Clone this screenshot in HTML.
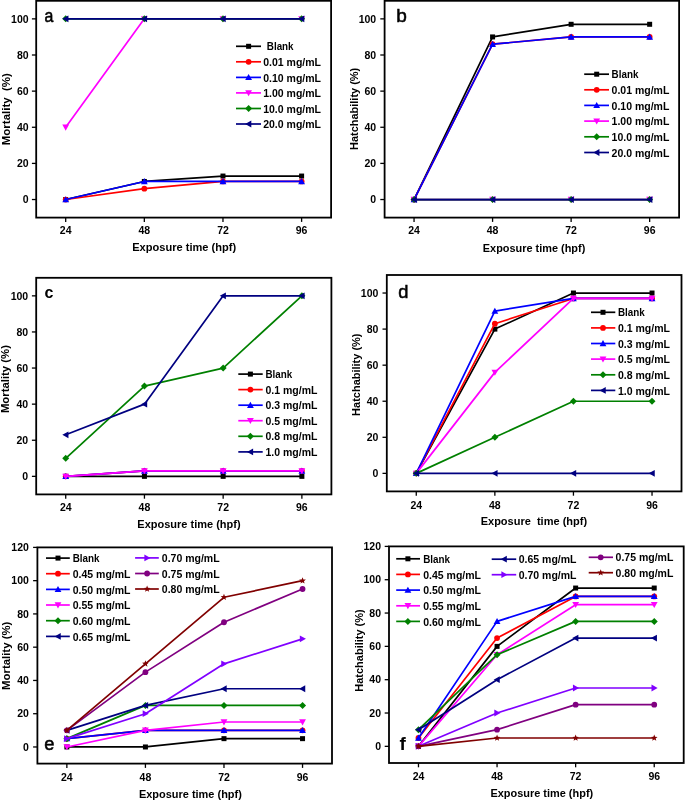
<!DOCTYPE html>
<html><head><meta charset="utf-8"><title>Figure</title>
<style>
html,body{margin:0;padding:0;background:#fff;}
body{width:685px;height:801px;overflow:hidden;}
svg{display:block;font-family:"Liberation Sans", sans-serif;will-change:transform;}
text{fill:#000;}
</style></head>
<body>
<svg width="685" height="801" viewBox="0 0 685 801">
<rect width="685" height="801" fill="#fff"/>
<polyline points="65.69,199.53 144.33,181.47 222.97,176.05 301.61,176.05" fill="none" stroke="#000000" stroke-width="1.7" stroke-linejoin="round"/>
<rect x="63.19" y="197.03" width="5.00" height="5.00" fill="#000000"/>
<rect x="141.83" y="178.97" width="5.00" height="5.00" fill="#000000"/>
<rect x="220.47" y="173.55" width="5.00" height="5.00" fill="#000000"/>
<rect x="299.11" y="173.55" width="5.00" height="5.00" fill="#000000"/>
<polyline points="65.69,199.53 144.33,188.69 222.97,181.47 301.61,181.47" fill="none" stroke="#ff0000" stroke-width="1.7" stroke-linejoin="round"/>
<circle cx="65.69" cy="199.53" r="2.90" fill="#ff0000"/>
<circle cx="144.33" cy="188.69" r="2.90" fill="#ff0000"/>
<circle cx="222.97" cy="181.47" r="2.90" fill="#ff0000"/>
<circle cx="301.61" cy="181.47" r="2.90" fill="#ff0000"/>
<polyline points="65.69,199.53 144.33,181.47 222.97,181.47 301.61,181.47" fill="none" stroke="#0000ff" stroke-width="1.7" stroke-linejoin="round"/>
<polygon points="65.69,196.13 69.09,202.25 62.29,202.25" fill="#0000ff"/>
<polygon points="144.33,178.07 147.73,184.19 140.93,184.19" fill="#0000ff"/>
<polygon points="222.97,178.07 226.37,184.19 219.57,184.19" fill="#0000ff"/>
<polygon points="301.61,178.07 305.01,184.19 298.21,184.19" fill="#0000ff"/>
<polyline points="65.69,127.27 144.33,18.87 222.97,18.87 301.61,18.87" fill="none" stroke="#ff00ff" stroke-width="1.7" stroke-linejoin="round"/>
<polygon points="65.69,130.67 69.09,124.55 62.29,124.55" fill="#ff00ff"/>
<polygon points="144.33,22.27 147.73,16.15 140.93,16.15" fill="#ff00ff"/>
<polygon points="222.97,22.27 226.37,16.15 219.57,16.15" fill="#ff00ff"/>
<polygon points="301.61,22.27 305.01,16.15 298.21,16.15" fill="#ff00ff"/>
<polyline points="65.69,18.87 144.33,18.87 222.97,18.87 301.61,18.87" fill="none" stroke="#008000" stroke-width="1.7" stroke-linejoin="round"/>
<polygon points="65.69,15.37 69.19,18.87 65.69,22.37 62.19,18.87" fill="#008000"/>
<polygon points="144.33,15.37 147.83,18.87 144.33,22.37 140.83,18.87" fill="#008000"/>
<polygon points="222.97,15.37 226.47,18.87 222.97,22.37 219.47,18.87" fill="#008000"/>
<polygon points="301.61,15.37 305.11,18.87 301.61,22.37 298.11,18.87" fill="#008000"/>
<polyline points="65.69,18.87 144.33,18.87 222.97,18.87 301.61,18.87" fill="none" stroke="#000080" stroke-width="1.7" stroke-linejoin="round"/>
<polygon points="62.29,18.87 68.41,15.47 68.41,22.27" fill="#000080"/>
<polygon points="140.93,18.87 147.05,15.47 147.05,22.27" fill="#000080"/>
<polygon points="219.57,18.87 225.69,15.47 225.69,22.27" fill="#000080"/>
<polygon points="298.21,18.87 304.33,15.47 304.33,22.27" fill="#000080"/>
<rect x="36.20" y="0.80" width="294.90" height="216.80" fill="none" stroke="#000" stroke-width="1.8"/>
<line x1="65.69" y1="217.60" x2="65.69" y2="221.90" stroke="#000" stroke-width="1.3"/>
<text x="65.69" y="234.00" font-size="10.5" font-weight="bold" text-anchor="middle">24</text>
<line x1="144.33" y1="217.60" x2="144.33" y2="221.90" stroke="#000" stroke-width="1.3"/>
<text x="144.33" y="234.00" font-size="10.5" font-weight="bold" text-anchor="middle">48</text>
<line x1="222.97" y1="217.60" x2="222.97" y2="221.90" stroke="#000" stroke-width="1.3"/>
<text x="222.97" y="234.00" font-size="10.5" font-weight="bold" text-anchor="middle">72</text>
<line x1="301.61" y1="217.60" x2="301.61" y2="221.90" stroke="#000" stroke-width="1.3"/>
<text x="301.61" y="234.00" font-size="10.5" font-weight="bold" text-anchor="middle">96</text>
<line x1="31.90" y1="199.53" x2="36.20" y2="199.53" stroke="#000" stroke-width="1.3"/>
<text x="28.60" y="203.28" font-size="10.5" font-weight="bold" text-anchor="end">0</text>
<line x1="31.90" y1="163.40" x2="36.20" y2="163.40" stroke="#000" stroke-width="1.3"/>
<text x="28.60" y="167.15" font-size="10.5" font-weight="bold" text-anchor="end">20</text>
<line x1="31.90" y1="127.27" x2="36.20" y2="127.27" stroke="#000" stroke-width="1.3"/>
<text x="28.60" y="131.02" font-size="10.5" font-weight="bold" text-anchor="end">40</text>
<line x1="31.90" y1="91.13" x2="36.20" y2="91.13" stroke="#000" stroke-width="1.3"/>
<text x="28.60" y="94.88" font-size="10.5" font-weight="bold" text-anchor="end">60</text>
<line x1="31.90" y1="55.00" x2="36.20" y2="55.00" stroke="#000" stroke-width="1.3"/>
<text x="28.60" y="58.75" font-size="10.5" font-weight="bold" text-anchor="end">80</text>
<line x1="31.90" y1="18.87" x2="36.20" y2="18.87" stroke="#000" stroke-width="1.3"/>
<text x="28.60" y="22.62" font-size="10.5" font-weight="bold" text-anchor="end">100</text>
<line x1="236.00" y1="46.30" x2="261.00" y2="46.30" stroke="#000000" stroke-width="1.7"/>
<rect x="246.10" y="43.80" width="5.00" height="5.00" fill="#000000"/>
<text x="266.80" y="50.40" font-size="10.5" font-weight="bold" text-anchor="start" textLength="26.80" lengthAdjust="spacingAndGlyphs">Blank</text>
<line x1="236.00" y1="61.80" x2="261.00" y2="61.80" stroke="#ff0000" stroke-width="1.7"/>
<circle cx="248.60" cy="61.80" r="2.90" fill="#ff0000"/>
<text x="263.20" y="65.90" font-size="10.5" font-weight="bold" text-anchor="start">0.01 mg/mL</text>
<line x1="236.00" y1="77.40" x2="261.00" y2="77.40" stroke="#0000ff" stroke-width="1.7"/>
<polygon points="248.60,74.00 252.00,80.12 245.20,80.12" fill="#0000ff"/>
<text x="263.20" y="81.50" font-size="10.5" font-weight="bold" text-anchor="start">0.10 mg/mL</text>
<line x1="236.00" y1="92.90" x2="261.00" y2="92.90" stroke="#ff00ff" stroke-width="1.7"/>
<polygon points="248.60,96.30 252.00,90.18 245.20,90.18" fill="#ff00ff"/>
<text x="263.20" y="97.00" font-size="10.5" font-weight="bold" text-anchor="start">1.00 mg/mL</text>
<line x1="236.00" y1="108.50" x2="261.00" y2="108.50" stroke="#008000" stroke-width="1.7"/>
<polygon points="248.60,105.00 252.10,108.50 248.60,112.00 245.10,108.50" fill="#008000"/>
<text x="263.20" y="112.60" font-size="10.5" font-weight="bold" text-anchor="start">10.0 mg/mL</text>
<line x1="236.00" y1="124.00" x2="261.00" y2="124.00" stroke="#000080" stroke-width="1.7"/>
<polygon points="245.20,124.00 251.32,120.60 251.32,127.40" fill="#000080"/>
<text x="263.20" y="128.10" font-size="10.5" font-weight="bold" text-anchor="start">20.0 mg/mL</text>
<text x="44.60" y="22.10" font-size="18.5" font-weight="normal" text-anchor="start" stroke="#000" stroke-width="0.55" transform="translate(44.60,0) scale(0.86,1) translate(-44.60,0)">a</text>
<text x="132.20" y="251.20" font-size="11" font-weight="bold" text-anchor="start" textLength="104.00" lengthAdjust="spacingAndGlyphs" xml:space="preserve">Exposure time (hpf)</text>
<text transform="translate(9.80,109.20) rotate(-90)" x="0" y="0" font-size="11" font-weight="bold" text-anchor="middle" textLength="72.00" lengthAdjust="spacingAndGlyphs" xml:space="preserve">Mortality  (%)</text>
<polyline points="414.05,199.53 492.58,36.93 571.12,24.29 649.65,24.29" fill="none" stroke="#000000" stroke-width="1.7" stroke-linejoin="round"/>
<rect x="411.55" y="197.03" width="5.00" height="5.00" fill="#000000"/>
<rect x="490.08" y="34.43" width="5.00" height="5.00" fill="#000000"/>
<rect x="568.62" y="21.79" width="5.00" height="5.00" fill="#000000"/>
<rect x="647.15" y="21.79" width="5.00" height="5.00" fill="#000000"/>
<polyline points="414.05,199.53 492.58,44.16 571.12,36.93 649.65,36.93" fill="none" stroke="#ff0000" stroke-width="1.7" stroke-linejoin="round"/>
<circle cx="414.05" cy="199.53" r="2.90" fill="#ff0000"/>
<circle cx="492.58" cy="44.16" r="2.90" fill="#ff0000"/>
<circle cx="571.12" cy="36.93" r="2.90" fill="#ff0000"/>
<circle cx="649.65" cy="36.93" r="2.90" fill="#ff0000"/>
<polyline points="414.05,199.53 492.58,44.16 571.12,36.93 649.65,36.93" fill="none" stroke="#0000ff" stroke-width="1.7" stroke-linejoin="round"/>
<polygon points="414.05,196.13 417.45,202.25 410.65,202.25" fill="#0000ff"/>
<polygon points="492.58,40.76 495.98,46.88 489.18,46.88" fill="#0000ff"/>
<polygon points="571.12,33.53 574.52,39.65 567.72,39.65" fill="#0000ff"/>
<polygon points="649.65,33.53 653.05,39.65 646.25,39.65" fill="#0000ff"/>
<polyline points="414.05,199.53 492.58,199.53 571.12,199.53 649.65,199.53" fill="none" stroke="#ff00ff" stroke-width="1.7" stroke-linejoin="round"/>
<polygon points="414.05,202.93 417.45,196.81 410.65,196.81" fill="#ff00ff"/>
<polygon points="492.58,202.93 495.98,196.81 489.18,196.81" fill="#ff00ff"/>
<polygon points="571.12,202.93 574.52,196.81 567.72,196.81" fill="#ff00ff"/>
<polygon points="649.65,202.93 653.05,196.81 646.25,196.81" fill="#ff00ff"/>
<polyline points="414.05,199.53 492.58,199.53 571.12,199.53 649.65,199.53" fill="none" stroke="#008000" stroke-width="1.7" stroke-linejoin="round"/>
<polygon points="414.05,196.03 417.55,199.53 414.05,203.03 410.55,199.53" fill="#008000"/>
<polygon points="492.58,196.03 496.08,199.53 492.58,203.03 489.08,199.53" fill="#008000"/>
<polygon points="571.12,196.03 574.62,199.53 571.12,203.03 567.62,199.53" fill="#008000"/>
<polygon points="649.65,196.03 653.15,199.53 649.65,203.03 646.15,199.53" fill="#008000"/>
<polyline points="414.05,199.53 492.58,199.53 571.12,199.53 649.65,199.53" fill="none" stroke="#000080" stroke-width="1.7" stroke-linejoin="round"/>
<polygon points="410.65,199.53 416.77,196.13 416.77,202.93" fill="#000080"/>
<polygon points="489.18,199.53 495.30,196.13 495.30,202.93" fill="#000080"/>
<polygon points="567.72,199.53 573.84,196.13 573.84,202.93" fill="#000080"/>
<polygon points="646.25,199.53 652.37,196.13 652.37,202.93" fill="#000080"/>
<rect x="384.60" y="0.80" width="294.50" height="216.80" fill="none" stroke="#000" stroke-width="1.8"/>
<line x1="414.05" y1="217.60" x2="414.05" y2="221.90" stroke="#000" stroke-width="1.3"/>
<text x="414.05" y="234.00" font-size="10.5" font-weight="bold" text-anchor="middle">24</text>
<line x1="492.58" y1="217.60" x2="492.58" y2="221.90" stroke="#000" stroke-width="1.3"/>
<text x="492.58" y="234.00" font-size="10.5" font-weight="bold" text-anchor="middle">48</text>
<line x1="571.12" y1="217.60" x2="571.12" y2="221.90" stroke="#000" stroke-width="1.3"/>
<text x="571.12" y="234.00" font-size="10.5" font-weight="bold" text-anchor="middle">72</text>
<line x1="649.65" y1="217.60" x2="649.65" y2="221.90" stroke="#000" stroke-width="1.3"/>
<text x="649.65" y="234.00" font-size="10.5" font-weight="bold" text-anchor="middle">96</text>
<line x1="380.30" y1="199.53" x2="384.60" y2="199.53" stroke="#000" stroke-width="1.3"/>
<text x="376.20" y="203.28" font-size="10.5" font-weight="bold" text-anchor="end">0</text>
<line x1="380.30" y1="163.40" x2="384.60" y2="163.40" stroke="#000" stroke-width="1.3"/>
<text x="376.20" y="167.15" font-size="10.5" font-weight="bold" text-anchor="end">20</text>
<line x1="380.30" y1="127.27" x2="384.60" y2="127.27" stroke="#000" stroke-width="1.3"/>
<text x="376.20" y="131.02" font-size="10.5" font-weight="bold" text-anchor="end">40</text>
<line x1="380.30" y1="91.13" x2="384.60" y2="91.13" stroke="#000" stroke-width="1.3"/>
<text x="376.20" y="94.88" font-size="10.5" font-weight="bold" text-anchor="end">60</text>
<line x1="380.30" y1="55.00" x2="384.60" y2="55.00" stroke="#000" stroke-width="1.3"/>
<text x="376.20" y="58.75" font-size="10.5" font-weight="bold" text-anchor="end">80</text>
<line x1="380.30" y1="18.87" x2="384.60" y2="18.87" stroke="#000" stroke-width="1.3"/>
<text x="376.20" y="22.62" font-size="10.5" font-weight="bold" text-anchor="end">100</text>
<line x1="584.20" y1="74.20" x2="609.00" y2="74.20" stroke="#000000" stroke-width="1.7"/>
<rect x="594.20" y="71.70" width="5.00" height="5.00" fill="#000000"/>
<text x="611.60" y="78.30" font-size="10.5" font-weight="bold" text-anchor="start" textLength="26.80" lengthAdjust="spacingAndGlyphs">Blank</text>
<line x1="584.20" y1="89.80" x2="609.00" y2="89.80" stroke="#ff0000" stroke-width="1.7"/>
<circle cx="596.70" cy="89.80" r="2.90" fill="#ff0000"/>
<text x="611.60" y="93.90" font-size="10.5" font-weight="bold" text-anchor="start">0.01 mg/mL</text>
<line x1="584.20" y1="105.40" x2="609.00" y2="105.40" stroke="#0000ff" stroke-width="1.7"/>
<polygon points="596.70,102.00 600.10,108.12 593.30,108.12" fill="#0000ff"/>
<text x="611.60" y="109.50" font-size="10.5" font-weight="bold" text-anchor="start">0.10 mg/mL</text>
<line x1="584.20" y1="121.10" x2="609.00" y2="121.10" stroke="#ff00ff" stroke-width="1.7"/>
<polygon points="596.70,124.50 600.10,118.38 593.30,118.38" fill="#ff00ff"/>
<text x="611.60" y="125.20" font-size="10.5" font-weight="bold" text-anchor="start">1.00 mg/mL</text>
<line x1="584.20" y1="136.80" x2="609.00" y2="136.80" stroke="#008000" stroke-width="1.7"/>
<polygon points="596.70,133.30 600.20,136.80 596.70,140.30 593.20,136.80" fill="#008000"/>
<text x="611.60" y="140.90" font-size="10.5" font-weight="bold" text-anchor="start">10.0 mg/mL</text>
<line x1="584.20" y1="152.50" x2="609.00" y2="152.50" stroke="#000080" stroke-width="1.7"/>
<polygon points="593.30,152.50 599.42,149.10 599.42,155.90" fill="#000080"/>
<text x="611.60" y="156.60" font-size="10.5" font-weight="bold" text-anchor="start">20.0 mg/mL</text>
<text x="396.30" y="21.90" font-size="19" font-weight="normal" text-anchor="start" stroke="#000" stroke-width="0.55">b</text>
<text x="482.80" y="251.80" font-size="11" font-weight="bold" text-anchor="start" textLength="102.50" lengthAdjust="spacingAndGlyphs" xml:space="preserve">Exposure time (hpf)</text>
<text transform="translate(358.30,108.90) rotate(-90)" x="0" y="0" font-size="11" font-weight="bold" text-anchor="middle" textLength="82.30" lengthAdjust="spacingAndGlyphs" xml:space="preserve">Hatchability (%)</text>
<polyline points="65.72,476.35 144.44,476.35 223.16,476.35 301.88,476.35" fill="none" stroke="#000000" stroke-width="1.7" stroke-linejoin="round"/>
<rect x="63.22" y="473.85" width="5.00" height="5.00" fill="#000000"/>
<rect x="141.94" y="473.85" width="5.00" height="5.00" fill="#000000"/>
<rect x="220.66" y="473.85" width="5.00" height="5.00" fill="#000000"/>
<rect x="299.38" y="473.85" width="5.00" height="5.00" fill="#000000"/>
<polyline points="65.72,476.35 144.44,470.94 223.16,470.94 301.88,470.94" fill="none" stroke="#ff0000" stroke-width="1.7" stroke-linejoin="round"/>
<circle cx="65.72" cy="476.35" r="2.90" fill="#ff0000"/>
<circle cx="144.44" cy="470.94" r="2.90" fill="#ff0000"/>
<circle cx="223.16" cy="470.94" r="2.90" fill="#ff0000"/>
<circle cx="301.88" cy="470.94" r="2.90" fill="#ff0000"/>
<polyline points="65.72,476.35 144.44,470.94 223.16,470.94 301.88,470.94" fill="none" stroke="#0000ff" stroke-width="1.7" stroke-linejoin="round"/>
<polygon points="65.72,472.95 69.12,479.07 62.32,479.07" fill="#0000ff"/>
<polygon points="144.44,467.54 147.84,473.66 141.04,473.66" fill="#0000ff"/>
<polygon points="223.16,467.54 226.56,473.66 219.76,473.66" fill="#0000ff"/>
<polygon points="301.88,467.54 305.28,473.66 298.48,473.66" fill="#0000ff"/>
<polyline points="65.72,476.35 144.44,470.94 223.16,470.94 301.88,470.94" fill="none" stroke="#ff00ff" stroke-width="1.7" stroke-linejoin="round"/>
<polygon points="65.72,479.75 69.12,473.63 62.32,473.63" fill="#ff00ff"/>
<polygon points="144.44,474.33 147.84,468.21 141.04,468.21" fill="#ff00ff"/>
<polygon points="223.16,474.33 226.56,468.21 219.76,468.21" fill="#ff00ff"/>
<polygon points="301.88,474.33 305.28,468.21 298.48,468.21" fill="#ff00ff"/>
<polyline points="65.72,458.30 144.44,386.10 223.16,368.05 301.88,295.85" fill="none" stroke="#008000" stroke-width="1.7" stroke-linejoin="round"/>
<polygon points="65.72,454.80 69.22,458.30 65.72,461.80 62.22,458.30" fill="#008000"/>
<polygon points="144.44,382.60 147.94,386.10 144.44,389.60 140.94,386.10" fill="#008000"/>
<polygon points="223.16,364.55 226.66,368.05 223.16,371.55 219.66,368.05" fill="#008000"/>
<polygon points="301.88,292.35 305.38,295.85 301.88,299.35 298.38,295.85" fill="#008000"/>
<polyline points="65.72,434.83 144.44,404.15 223.16,295.85 301.88,295.85" fill="none" stroke="#000080" stroke-width="1.7" stroke-linejoin="round"/>
<polygon points="62.32,434.83 68.44,431.44 68.44,438.23" fill="#000080"/>
<polygon points="141.04,404.15 147.16,400.75 147.16,407.55" fill="#000080"/>
<polygon points="219.76,295.85 225.88,292.45 225.88,299.25" fill="#000080"/>
<polygon points="298.48,295.85 304.60,292.45 304.60,299.25" fill="#000080"/>
<rect x="36.20" y="277.80" width="295.20" height="216.60" fill="none" stroke="#000" stroke-width="1.8"/>
<line x1="65.72" y1="494.40" x2="65.72" y2="498.70" stroke="#000" stroke-width="1.3"/>
<text x="65.72" y="511.20" font-size="10.5" font-weight="bold" text-anchor="middle">24</text>
<line x1="144.44" y1="494.40" x2="144.44" y2="498.70" stroke="#000" stroke-width="1.3"/>
<text x="144.44" y="511.20" font-size="10.5" font-weight="bold" text-anchor="middle">48</text>
<line x1="223.16" y1="494.40" x2="223.16" y2="498.70" stroke="#000" stroke-width="1.3"/>
<text x="223.16" y="511.20" font-size="10.5" font-weight="bold" text-anchor="middle">72</text>
<line x1="301.88" y1="494.40" x2="301.88" y2="498.70" stroke="#000" stroke-width="1.3"/>
<text x="301.88" y="511.20" font-size="10.5" font-weight="bold" text-anchor="middle">96</text>
<line x1="31.90" y1="476.35" x2="36.20" y2="476.35" stroke="#000" stroke-width="1.3"/>
<text x="28.20" y="480.10" font-size="10.5" font-weight="bold" text-anchor="end">0</text>
<line x1="31.90" y1="440.25" x2="36.20" y2="440.25" stroke="#000" stroke-width="1.3"/>
<text x="28.20" y="444.00" font-size="10.5" font-weight="bold" text-anchor="end">20</text>
<line x1="31.90" y1="404.15" x2="36.20" y2="404.15" stroke="#000" stroke-width="1.3"/>
<text x="28.20" y="407.90" font-size="10.5" font-weight="bold" text-anchor="end">40</text>
<line x1="31.90" y1="368.05" x2="36.20" y2="368.05" stroke="#000" stroke-width="1.3"/>
<text x="28.20" y="371.80" font-size="10.5" font-weight="bold" text-anchor="end">60</text>
<line x1="31.90" y1="331.95" x2="36.20" y2="331.95" stroke="#000" stroke-width="1.3"/>
<text x="28.20" y="335.70" font-size="10.5" font-weight="bold" text-anchor="end">80</text>
<line x1="31.90" y1="295.85" x2="36.20" y2="295.85" stroke="#000" stroke-width="1.3"/>
<text x="28.20" y="299.60" font-size="10.5" font-weight="bold" text-anchor="end">100</text>
<line x1="238.30" y1="374.10" x2="262.70" y2="374.10" stroke="#000000" stroke-width="1.7"/>
<rect x="247.90" y="371.60" width="5.00" height="5.00" fill="#000000"/>
<text x="265.50" y="378.20" font-size="10.5" font-weight="bold" text-anchor="start" textLength="26.80" lengthAdjust="spacingAndGlyphs">Blank</text>
<line x1="238.30" y1="389.60" x2="262.70" y2="389.60" stroke="#ff0000" stroke-width="1.7"/>
<circle cx="250.40" cy="389.60" r="2.90" fill="#ff0000"/>
<text x="265.50" y="393.70" font-size="10.5" font-weight="bold" text-anchor="start">0.1 mg/mL</text>
<line x1="238.30" y1="405.20" x2="262.70" y2="405.20" stroke="#0000ff" stroke-width="1.7"/>
<polygon points="250.40,401.80 253.80,407.92 247.00,407.92" fill="#0000ff"/>
<text x="265.50" y="409.30" font-size="10.5" font-weight="bold" text-anchor="start">0.3 mg/mL</text>
<line x1="238.30" y1="420.70" x2="262.70" y2="420.70" stroke="#ff00ff" stroke-width="1.7"/>
<polygon points="250.40,424.10 253.80,417.98 247.00,417.98" fill="#ff00ff"/>
<text x="265.50" y="424.80" font-size="10.5" font-weight="bold" text-anchor="start">0.5 mg/mL</text>
<line x1="238.30" y1="436.30" x2="262.70" y2="436.30" stroke="#008000" stroke-width="1.7"/>
<polygon points="250.40,432.80 253.90,436.30 250.40,439.80 246.90,436.30" fill="#008000"/>
<text x="265.50" y="440.40" font-size="10.5" font-weight="bold" text-anchor="start">0.8 mg/mL</text>
<line x1="238.30" y1="451.90" x2="262.70" y2="451.90" stroke="#000080" stroke-width="1.7"/>
<polygon points="247.00,451.90 253.12,448.50 253.12,455.30" fill="#000080"/>
<text x="265.50" y="456.00" font-size="10.5" font-weight="bold" text-anchor="start">1.0 mg/mL</text>
<text x="44.40" y="298.40" font-size="16" font-weight="bold" text-anchor="start">c</text>
<text x="137.30" y="527.60" font-size="11" font-weight="bold" text-anchor="start" textLength="103.30" lengthAdjust="spacingAndGlyphs" xml:space="preserve">Exposure time (hpf)</text>
<text transform="translate(9.30,379.10) rotate(-90)" x="0" y="0" font-size="11" font-weight="bold" text-anchor="middle" textLength="68.00" lengthAdjust="spacingAndGlyphs" xml:space="preserve">Mortality (%)</text>
<polyline points="416.27,473.37 494.86,329.10 573.44,293.03 652.03,293.03" fill="none" stroke="#000000" stroke-width="1.7" stroke-linejoin="round"/>
<rect x="413.77" y="470.87" width="5.00" height="5.00" fill="#000000"/>
<rect x="492.36" y="326.60" width="5.00" height="5.00" fill="#000000"/>
<rect x="570.94" y="290.53" width="5.00" height="5.00" fill="#000000"/>
<rect x="649.53" y="290.53" width="5.00" height="5.00" fill="#000000"/>
<polyline points="416.27,473.37 494.86,323.69 573.44,298.44 652.03,298.44" fill="none" stroke="#ff0000" stroke-width="1.7" stroke-linejoin="round"/>
<circle cx="416.27" cy="473.37" r="2.90" fill="#ff0000"/>
<circle cx="494.86" cy="323.69" r="2.90" fill="#ff0000"/>
<circle cx="573.44" cy="298.44" r="2.90" fill="#ff0000"/>
<circle cx="652.03" cy="298.44" r="2.90" fill="#ff0000"/>
<polyline points="416.27,473.37 494.86,311.07 573.44,298.44 652.03,298.44" fill="none" stroke="#0000ff" stroke-width="1.7" stroke-linejoin="round"/>
<polygon points="416.27,469.97 419.67,476.09 412.87,476.09" fill="#0000ff"/>
<polygon points="494.86,307.67 498.26,313.79 491.46,313.79" fill="#0000ff"/>
<polygon points="573.44,295.04 576.84,301.16 570.04,301.16" fill="#0000ff"/>
<polygon points="652.03,295.04 655.43,301.16 648.63,301.16" fill="#0000ff"/>
<polyline points="416.27,473.37 494.86,372.38 573.44,298.44 652.03,298.44" fill="none" stroke="#ff00ff" stroke-width="1.7" stroke-linejoin="round"/>
<polygon points="416.27,476.77 419.67,470.65 412.87,470.65" fill="#ff00ff"/>
<polygon points="494.86,375.78 498.26,369.66 491.46,369.66" fill="#ff00ff"/>
<polygon points="573.44,301.84 576.84,295.72 570.04,295.72" fill="#ff00ff"/>
<polygon points="652.03,301.84 655.43,295.72 648.63,295.72" fill="#ff00ff"/>
<polyline points="416.27,473.37 494.86,437.30 573.44,401.23 652.03,401.23" fill="none" stroke="#008000" stroke-width="1.7" stroke-linejoin="round"/>
<polygon points="416.27,469.87 419.77,473.37 416.27,476.87 412.77,473.37" fill="#008000"/>
<polygon points="494.86,433.80 498.36,437.30 494.86,440.80 491.36,437.30" fill="#008000"/>
<polygon points="573.44,397.73 576.94,401.23 573.44,404.73 569.94,401.23" fill="#008000"/>
<polygon points="652.03,397.73 655.53,401.23 652.03,404.73 648.53,401.23" fill="#008000"/>
<polyline points="416.27,473.37 494.86,473.37 573.44,473.37 652.03,473.37" fill="none" stroke="#000080" stroke-width="1.7" stroke-linejoin="round"/>
<polygon points="412.87,473.37 418.99,469.97 418.99,476.77" fill="#000080"/>
<polygon points="491.46,473.37 497.58,469.97 497.58,476.77" fill="#000080"/>
<polygon points="570.04,473.37 576.16,469.97 576.16,476.77" fill="#000080"/>
<polygon points="648.63,473.37 654.75,469.97 654.75,476.77" fill="#000080"/>
<rect x="386.80" y="275.00" width="294.70" height="216.40" fill="none" stroke="#000" stroke-width="1.8"/>
<line x1="416.27" y1="491.40" x2="416.27" y2="495.70" stroke="#000" stroke-width="1.3"/>
<text x="416.27" y="508.60" font-size="10.5" font-weight="bold" text-anchor="middle">24</text>
<line x1="494.86" y1="491.40" x2="494.86" y2="495.70" stroke="#000" stroke-width="1.3"/>
<text x="494.86" y="508.60" font-size="10.5" font-weight="bold" text-anchor="middle">48</text>
<line x1="573.44" y1="491.40" x2="573.44" y2="495.70" stroke="#000" stroke-width="1.3"/>
<text x="573.44" y="508.60" font-size="10.5" font-weight="bold" text-anchor="middle">72</text>
<line x1="652.03" y1="491.40" x2="652.03" y2="495.70" stroke="#000" stroke-width="1.3"/>
<text x="652.03" y="508.60" font-size="10.5" font-weight="bold" text-anchor="middle">96</text>
<line x1="382.50" y1="473.37" x2="386.80" y2="473.37" stroke="#000" stroke-width="1.3"/>
<text x="378.40" y="477.12" font-size="10.5" font-weight="bold" text-anchor="end">0</text>
<line x1="382.50" y1="437.30" x2="386.80" y2="437.30" stroke="#000" stroke-width="1.3"/>
<text x="378.40" y="441.05" font-size="10.5" font-weight="bold" text-anchor="end">20</text>
<line x1="382.50" y1="401.23" x2="386.80" y2="401.23" stroke="#000" stroke-width="1.3"/>
<text x="378.40" y="404.98" font-size="10.5" font-weight="bold" text-anchor="end">40</text>
<line x1="382.50" y1="365.17" x2="386.80" y2="365.17" stroke="#000" stroke-width="1.3"/>
<text x="378.40" y="368.92" font-size="10.5" font-weight="bold" text-anchor="end">60</text>
<line x1="382.50" y1="329.10" x2="386.80" y2="329.10" stroke="#000" stroke-width="1.3"/>
<text x="378.40" y="332.85" font-size="10.5" font-weight="bold" text-anchor="end">80</text>
<line x1="382.50" y1="293.03" x2="386.80" y2="293.03" stroke="#000" stroke-width="1.3"/>
<text x="378.40" y="296.78" font-size="10.5" font-weight="bold" text-anchor="end">100</text>
<line x1="591.00" y1="312.30" x2="615.30" y2="312.30" stroke="#000000" stroke-width="1.7"/>
<rect x="600.50" y="309.80" width="5.00" height="5.00" fill="#000000"/>
<text x="618.00" y="316.40" font-size="10.5" font-weight="bold" text-anchor="start" textLength="26.80" lengthAdjust="spacingAndGlyphs">Blank</text>
<line x1="591.00" y1="327.90" x2="615.30" y2="327.90" stroke="#ff0000" stroke-width="1.7"/>
<circle cx="603.00" cy="327.90" r="2.90" fill="#ff0000"/>
<text x="618.00" y="332.00" font-size="10.5" font-weight="bold" text-anchor="start">0.1 mg/mL</text>
<line x1="591.00" y1="343.50" x2="615.30" y2="343.50" stroke="#0000ff" stroke-width="1.7"/>
<polygon points="603.00,340.10 606.40,346.22 599.60,346.22" fill="#0000ff"/>
<text x="618.00" y="347.60" font-size="10.5" font-weight="bold" text-anchor="start">0.3 mg/mL</text>
<line x1="591.00" y1="359.10" x2="615.30" y2="359.10" stroke="#ff00ff" stroke-width="1.7"/>
<polygon points="603.00,362.50 606.40,356.38 599.60,356.38" fill="#ff00ff"/>
<text x="618.00" y="363.20" font-size="10.5" font-weight="bold" text-anchor="start">0.5 mg/mL</text>
<line x1="591.00" y1="374.80" x2="615.30" y2="374.80" stroke="#008000" stroke-width="1.7"/>
<polygon points="603.00,371.30 606.50,374.80 603.00,378.30 599.50,374.80" fill="#008000"/>
<text x="618.00" y="378.90" font-size="10.5" font-weight="bold" text-anchor="start">0.8 mg/mL</text>
<line x1="591.00" y1="390.40" x2="615.30" y2="390.40" stroke="#000080" stroke-width="1.7"/>
<polygon points="599.60,390.40 605.72,387.00 605.72,393.80" fill="#000080"/>
<text x="618.00" y="394.50" font-size="10.5" font-weight="bold" text-anchor="start">1.0 mg/mL</text>
<text x="398.20" y="298.20" font-size="18.3" font-weight="normal" text-anchor="start" stroke="#000" stroke-width="0.55">d</text>
<text x="480.70" y="525.30" font-size="11" font-weight="bold" text-anchor="start" textLength="106.40" lengthAdjust="spacingAndGlyphs" xml:space="preserve">Exposure  time (hpf)</text>
<text transform="translate(359.80,374.70) rotate(-90)" x="0" y="0" font-size="11" font-weight="bold" text-anchor="middle" textLength="82.40" lengthAdjust="spacingAndGlyphs" xml:space="preserve">Hatchability (%)</text>
<polyline points="66.86,746.97 145.42,746.97 223.98,738.65 302.54,738.65" fill="none" stroke="#000000" stroke-width="1.7" stroke-linejoin="round"/>
<rect x="64.36" y="744.47" width="5.00" height="5.00" fill="#000000"/>
<rect x="142.92" y="744.47" width="5.00" height="5.00" fill="#000000"/>
<rect x="221.48" y="736.15" width="5.00" height="5.00" fill="#000000"/>
<rect x="300.04" y="736.15" width="5.00" height="5.00" fill="#000000"/>
<polyline points="66.86,738.65 145.42,730.34 223.98,730.34 302.54,730.34" fill="none" stroke="#ff0000" stroke-width="1.7" stroke-linejoin="round"/>
<circle cx="66.86" cy="738.65" r="2.90" fill="#ff0000"/>
<circle cx="145.42" cy="730.34" r="2.90" fill="#ff0000"/>
<circle cx="223.98" cy="730.34" r="2.90" fill="#ff0000"/>
<circle cx="302.54" cy="730.34" r="2.90" fill="#ff0000"/>
<polyline points="66.86,738.65 145.42,730.34 223.98,730.34 302.54,730.34" fill="none" stroke="#0000ff" stroke-width="1.7" stroke-linejoin="round"/>
<polygon points="66.86,735.25 70.26,741.37 63.46,741.37" fill="#0000ff"/>
<polygon points="145.42,726.94 148.82,733.06 142.02,733.06" fill="#0000ff"/>
<polygon points="223.98,726.94 227.38,733.06 220.58,733.06" fill="#0000ff"/>
<polygon points="302.54,726.94 305.94,733.06 299.14,733.06" fill="#0000ff"/>
<polyline points="66.86,746.97 145.42,730.34 223.98,722.02 302.54,722.02" fill="none" stroke="#ff00ff" stroke-width="1.7" stroke-linejoin="round"/>
<polygon points="66.86,750.37 70.26,744.25 63.46,744.25" fill="#ff00ff"/>
<polygon points="145.42,733.74 148.82,727.62 142.02,727.62" fill="#ff00ff"/>
<polygon points="223.98,725.42 227.38,719.30 220.58,719.30" fill="#ff00ff"/>
<polygon points="302.54,725.42 305.94,719.30 299.14,719.30" fill="#ff00ff"/>
<polyline points="66.86,738.65 145.42,705.39 223.98,705.39 302.54,705.39" fill="none" stroke="#008000" stroke-width="1.7" stroke-linejoin="round"/>
<polygon points="66.86,735.15 70.36,738.65 66.86,742.15 63.36,738.65" fill="#008000"/>
<polygon points="145.42,701.89 148.92,705.39 145.42,708.89 141.92,705.39" fill="#008000"/>
<polygon points="223.98,701.89 227.48,705.39 223.98,708.89 220.48,705.39" fill="#008000"/>
<polygon points="302.54,701.89 306.04,705.39 302.54,708.89 299.04,705.39" fill="#008000"/>
<polyline points="66.86,730.34 145.42,705.39 223.98,688.76 302.54,688.76" fill="none" stroke="#000080" stroke-width="1.7" stroke-linejoin="round"/>
<polygon points="63.46,730.34 69.58,726.94 69.58,733.74" fill="#000080"/>
<polygon points="142.02,705.39 148.14,701.99 148.14,708.79" fill="#000080"/>
<polygon points="220.58,688.76 226.70,685.36 226.70,692.16" fill="#000080"/>
<polygon points="299.14,688.76 305.26,685.36 305.26,692.16" fill="#000080"/>
<polyline points="66.86,738.65 145.42,713.71 223.98,663.82 302.54,638.87" fill="none" stroke="#8000ff" stroke-width="1.7" stroke-linejoin="round"/>
<polygon points="70.26,738.65 64.14,735.25 64.14,742.05" fill="#8000ff"/>
<polygon points="148.82,713.71 142.70,710.31 142.70,717.11" fill="#8000ff"/>
<polygon points="227.38,663.82 221.26,660.42 221.26,667.22" fill="#8000ff"/>
<polygon points="305.94,638.87 299.82,635.47 299.82,642.27" fill="#8000ff"/>
<polyline points="66.86,730.34 145.42,672.13 223.98,622.24 302.54,588.98" fill="none" stroke="#800080" stroke-width="1.7" stroke-linejoin="round"/>
<circle cx="66.86" cy="730.34" r="2.90" fill="#800080"/>
<circle cx="145.42" cy="672.13" r="2.90" fill="#800080"/>
<circle cx="223.98" cy="622.24" r="2.90" fill="#800080"/>
<circle cx="302.54" cy="588.98" r="2.90" fill="#800080"/>
<polyline points="66.86,730.34 145.42,663.82 223.98,597.29 302.54,580.66" fill="none" stroke="#800000" stroke-width="1.7" stroke-linejoin="round"/>
<polygon points="66.86,726.84 67.74,729.12 70.19,729.26 68.29,730.80 68.92,733.17 66.86,731.84 64.80,733.17 65.43,730.80 63.53,729.26 65.98,729.12" fill="#800000"/>
<polygon points="145.42,660.32 146.30,662.60 148.75,662.73 146.85,664.28 147.48,666.65 145.42,665.32 143.36,666.65 143.99,664.28 142.09,662.73 144.54,662.60" fill="#800000"/>
<polygon points="223.98,593.79 224.86,596.08 227.31,596.21 225.41,597.76 226.04,600.12 223.98,598.79 221.92,600.12 222.55,597.76 220.65,596.21 223.10,596.08" fill="#800000"/>
<polygon points="302.54,577.16 303.42,579.45 305.87,579.58 303.97,581.13 304.60,583.49 302.54,582.16 300.48,583.49 301.11,581.13 299.21,579.58 301.66,579.45" fill="#800000"/>
<rect x="37.40" y="547.40" width="294.60" height="216.20" fill="none" stroke="#000" stroke-width="1.8"/>
<line x1="66.86" y1="763.60" x2="66.86" y2="767.90" stroke="#000" stroke-width="1.3"/>
<text x="66.86" y="780.70" font-size="10.5" font-weight="bold" text-anchor="middle">24</text>
<line x1="145.42" y1="763.60" x2="145.42" y2="767.90" stroke="#000" stroke-width="1.3"/>
<text x="145.42" y="780.70" font-size="10.5" font-weight="bold" text-anchor="middle">48</text>
<line x1="223.98" y1="763.60" x2="223.98" y2="767.90" stroke="#000" stroke-width="1.3"/>
<text x="223.98" y="780.70" font-size="10.5" font-weight="bold" text-anchor="middle">72</text>
<line x1="302.54" y1="763.60" x2="302.54" y2="767.90" stroke="#000" stroke-width="1.3"/>
<text x="302.54" y="780.70" font-size="10.5" font-weight="bold" text-anchor="middle">96</text>
<line x1="33.10" y1="746.97" x2="37.40" y2="746.97" stroke="#000" stroke-width="1.3"/>
<text x="28.90" y="750.72" font-size="10.5" font-weight="bold" text-anchor="end">0</text>
<line x1="33.10" y1="713.71" x2="37.40" y2="713.71" stroke="#000" stroke-width="1.3"/>
<text x="28.90" y="717.46" font-size="10.5" font-weight="bold" text-anchor="end">20</text>
<line x1="33.10" y1="680.45" x2="37.40" y2="680.45" stroke="#000" stroke-width="1.3"/>
<text x="28.90" y="684.20" font-size="10.5" font-weight="bold" text-anchor="end">40</text>
<line x1="33.10" y1="647.18" x2="37.40" y2="647.18" stroke="#000" stroke-width="1.3"/>
<text x="28.90" y="650.93" font-size="10.5" font-weight="bold" text-anchor="end">60</text>
<line x1="33.10" y1="613.92" x2="37.40" y2="613.92" stroke="#000" stroke-width="1.3"/>
<text x="28.90" y="617.67" font-size="10.5" font-weight="bold" text-anchor="end">80</text>
<line x1="33.10" y1="580.66" x2="37.40" y2="580.66" stroke="#000" stroke-width="1.3"/>
<text x="28.90" y="584.41" font-size="10.5" font-weight="bold" text-anchor="end">100</text>
<line x1="33.10" y1="547.40" x2="37.40" y2="547.40" stroke="#000" stroke-width="1.3"/>
<text x="28.90" y="551.15" font-size="10.5" font-weight="bold" text-anchor="end">120</text>
<line x1="46.00" y1="558.10" x2="69.80" y2="558.10" stroke="#000000" stroke-width="1.7"/>
<rect x="55.50" y="555.60" width="5.00" height="5.00" fill="#000000"/>
<text x="72.70" y="562.20" font-size="10.5" font-weight="bold" text-anchor="start" textLength="26.80" lengthAdjust="spacingAndGlyphs">Blank</text>
<line x1="46.00" y1="573.70" x2="69.80" y2="573.70" stroke="#ff0000" stroke-width="1.7"/>
<circle cx="58.00" cy="573.70" r="2.90" fill="#ff0000"/>
<text x="72.70" y="577.80" font-size="10.5" font-weight="bold" text-anchor="start">0.45 mg/mL</text>
<line x1="46.00" y1="589.40" x2="69.80" y2="589.40" stroke="#0000ff" stroke-width="1.7"/>
<polygon points="58.00,586.00 61.40,592.12 54.60,592.12" fill="#0000ff"/>
<text x="72.70" y="593.50" font-size="10.5" font-weight="bold" text-anchor="start">0.50 mg/mL</text>
<line x1="46.00" y1="605.00" x2="69.80" y2="605.00" stroke="#ff00ff" stroke-width="1.7"/>
<polygon points="58.00,608.40 61.40,602.28 54.60,602.28" fill="#ff00ff"/>
<text x="72.70" y="609.10" font-size="10.5" font-weight="bold" text-anchor="start">0.55 mg/mL</text>
<line x1="46.00" y1="620.70" x2="69.80" y2="620.70" stroke="#008000" stroke-width="1.7"/>
<polygon points="58.00,617.20 61.50,620.70 58.00,624.20 54.50,620.70" fill="#008000"/>
<text x="72.70" y="624.80" font-size="10.5" font-weight="bold" text-anchor="start">0.60 mg/mL</text>
<line x1="46.00" y1="636.40" x2="69.80" y2="636.40" stroke="#000080" stroke-width="1.7"/>
<polygon points="54.60,636.40 60.72,633.00 60.72,639.80" fill="#000080"/>
<text x="72.70" y="640.50" font-size="10.5" font-weight="bold" text-anchor="start">0.65 mg/mL</text>
<line x1="135.10" y1="557.90" x2="158.80" y2="557.90" stroke="#8000ff" stroke-width="1.7"/>
<polygon points="150.50,557.90 144.38,554.50 144.38,561.30" fill="#8000ff"/>
<text x="161.80" y="562.00" font-size="10.5" font-weight="bold" text-anchor="start">0.70 mg/mL</text>
<line x1="135.10" y1="573.50" x2="158.80" y2="573.50" stroke="#800080" stroke-width="1.7"/>
<circle cx="147.10" cy="573.50" r="2.90" fill="#800080"/>
<text x="161.80" y="577.60" font-size="10.5" font-weight="bold" text-anchor="start">0.75 mg/mL</text>
<line x1="135.10" y1="589.00" x2="158.80" y2="589.00" stroke="#800000" stroke-width="1.7"/>
<polygon points="147.10,585.50 147.98,587.79 150.43,587.92 148.53,589.46 149.16,591.83 147.10,590.50 145.04,591.83 145.67,589.46 143.77,587.92 146.22,587.79" fill="#800000"/>
<text x="161.80" y="593.10" font-size="10.5" font-weight="bold" text-anchor="start">0.80 mg/mL</text>
<text x="44.30" y="750.10" font-size="18.3" font-weight="normal" text-anchor="start" stroke="#000" stroke-width="0.55">e</text>
<text x="138.90" y="797.80" font-size="11" font-weight="bold" text-anchor="start" textLength="103.00" lengthAdjust="spacingAndGlyphs" xml:space="preserve">Exposure time (hpf)</text>
<text transform="translate(9.60,655.80) rotate(-90)" x="0" y="0" font-size="11" font-weight="bold" text-anchor="middle" textLength="68.20" lengthAdjust="spacingAndGlyphs" xml:space="preserve">Mortality (%)</text>
<polyline points="418.47,746.34 497.06,646.37 575.64,588.05 654.23,588.05" fill="none" stroke="#000000" stroke-width="1.7" stroke-linejoin="round"/>
<rect x="415.97" y="743.84" width="5.00" height="5.00" fill="#000000"/>
<rect x="494.56" y="643.87" width="5.00" height="5.00" fill="#000000"/>
<rect x="573.14" y="585.55" width="5.00" height="5.00" fill="#000000"/>
<rect x="651.73" y="585.55" width="5.00" height="5.00" fill="#000000"/>
<polyline points="418.47,738.01 497.06,638.04 575.64,596.38 654.23,596.38" fill="none" stroke="#ff0000" stroke-width="1.7" stroke-linejoin="round"/>
<circle cx="418.47" cy="738.01" r="2.90" fill="#ff0000"/>
<circle cx="497.06" cy="638.04" r="2.90" fill="#ff0000"/>
<circle cx="575.64" cy="596.38" r="2.90" fill="#ff0000"/>
<circle cx="654.23" cy="596.38" r="2.90" fill="#ff0000"/>
<polyline points="418.47,738.01 497.06,621.38 575.64,596.38 654.23,596.38" fill="none" stroke="#0000ff" stroke-width="1.7" stroke-linejoin="round"/>
<polygon points="418.47,734.61 421.87,740.73 415.07,740.73" fill="#0000ff"/>
<polygon points="497.06,617.98 500.46,624.10 493.66,624.10" fill="#0000ff"/>
<polygon points="575.64,592.98 579.04,599.10 572.24,599.10" fill="#0000ff"/>
<polygon points="654.23,592.98 657.63,599.10 650.83,599.10" fill="#0000ff"/>
<polyline points="418.47,746.34 497.06,654.70 575.64,604.72 654.23,604.72" fill="none" stroke="#ff00ff" stroke-width="1.7" stroke-linejoin="round"/>
<polygon points="418.47,749.74 421.87,743.62 415.07,743.62" fill="#ff00ff"/>
<polygon points="497.06,658.10 500.46,651.98 493.66,651.98" fill="#ff00ff"/>
<polygon points="575.64,608.12 579.04,602.00 572.24,602.00" fill="#ff00ff"/>
<polygon points="654.23,608.12 657.63,602.00 650.83,602.00" fill="#ff00ff"/>
<polyline points="418.47,729.68 497.06,654.70 575.64,621.38 654.23,621.38" fill="none" stroke="#008000" stroke-width="1.7" stroke-linejoin="round"/>
<polygon points="418.47,726.18 421.97,729.68 418.47,733.18 414.97,729.68" fill="#008000"/>
<polygon points="497.06,651.20 500.56,654.70 497.06,658.20 493.56,654.70" fill="#008000"/>
<polygon points="575.64,617.88 579.14,621.38 575.64,624.88 572.14,621.38" fill="#008000"/>
<polygon points="654.23,617.88 657.73,621.38 654.23,624.88 650.73,621.38" fill="#008000"/>
<polyline points="418.47,729.68 497.06,679.69 575.64,638.04 654.23,638.04" fill="none" stroke="#000080" stroke-width="1.7" stroke-linejoin="round"/>
<polygon points="415.07,729.68 421.19,726.28 421.19,733.08" fill="#000080"/>
<polygon points="493.66,679.69 499.78,676.29 499.78,683.09" fill="#000080"/>
<polygon points="572.24,638.04 578.36,634.64 578.36,641.44" fill="#000080"/>
<polygon points="650.83,638.04 656.95,634.64 656.95,641.44" fill="#000080"/>
<polyline points="418.47,746.34 497.06,713.02 575.64,688.02 654.23,688.02" fill="none" stroke="#8000ff" stroke-width="1.7" stroke-linejoin="round"/>
<polygon points="421.87,746.34 415.75,742.94 415.75,749.74" fill="#8000ff"/>
<polygon points="500.46,713.02 494.34,709.62 494.34,716.42" fill="#8000ff"/>
<polygon points="579.04,688.02 572.92,684.62 572.92,691.42" fill="#8000ff"/>
<polygon points="657.63,688.02 651.51,684.62 651.51,691.42" fill="#8000ff"/>
<polyline points="418.47,746.34 497.06,729.68 575.64,704.68 654.23,704.68" fill="none" stroke="#800080" stroke-width="1.7" stroke-linejoin="round"/>
<circle cx="418.47" cy="746.34" r="2.90" fill="#800080"/>
<circle cx="497.06" cy="729.68" r="2.90" fill="#800080"/>
<circle cx="575.64" cy="704.68" r="2.90" fill="#800080"/>
<circle cx="654.23" cy="704.68" r="2.90" fill="#800080"/>
<polyline points="418.47,746.34 497.06,738.01 575.64,738.01 654.23,738.01" fill="none" stroke="#800000" stroke-width="1.7" stroke-linejoin="round"/>
<polygon points="418.47,742.84 419.35,745.12 421.80,745.26 419.90,746.80 420.53,749.17 418.47,747.84 416.41,749.17 417.04,746.80 415.14,745.26 417.59,745.12" fill="#800000"/>
<polygon points="497.06,734.51 497.94,736.79 500.39,736.93 498.48,738.47 499.11,740.84 497.06,739.51 495.00,740.84 495.63,738.47 493.73,736.93 496.17,736.79" fill="#800000"/>
<polygon points="575.64,734.51 576.53,736.79 578.97,736.93 577.07,738.47 577.70,740.84 575.64,739.51 573.59,740.84 574.22,738.47 572.31,736.93 574.76,736.79" fill="#800000"/>
<polygon points="654.23,734.51 655.11,736.79 657.56,736.93 655.66,738.47 656.29,740.84 654.23,739.51 652.17,740.84 652.80,738.47 650.90,736.93 653.35,736.79" fill="#800000"/>
<rect x="389.00" y="546.40" width="294.70" height="216.60" fill="none" stroke="#000" stroke-width="1.8"/>
<line x1="418.47" y1="763.00" x2="418.47" y2="767.30" stroke="#000" stroke-width="1.3"/>
<text x="418.47" y="780.00" font-size="10.5" font-weight="bold" text-anchor="middle">24</text>
<line x1="497.06" y1="763.00" x2="497.06" y2="767.30" stroke="#000" stroke-width="1.3"/>
<text x="497.06" y="780.00" font-size="10.5" font-weight="bold" text-anchor="middle">48</text>
<line x1="575.64" y1="763.00" x2="575.64" y2="767.30" stroke="#000" stroke-width="1.3"/>
<text x="575.64" y="780.00" font-size="10.5" font-weight="bold" text-anchor="middle">72</text>
<line x1="654.23" y1="763.00" x2="654.23" y2="767.30" stroke="#000" stroke-width="1.3"/>
<text x="654.23" y="780.00" font-size="10.5" font-weight="bold" text-anchor="middle">96</text>
<line x1="384.70" y1="746.34" x2="389.00" y2="746.34" stroke="#000" stroke-width="1.3"/>
<text x="381.00" y="750.09" font-size="10.5" font-weight="bold" text-anchor="end">0</text>
<line x1="384.70" y1="713.02" x2="389.00" y2="713.02" stroke="#000" stroke-width="1.3"/>
<text x="381.00" y="716.77" font-size="10.5" font-weight="bold" text-anchor="end">20</text>
<line x1="384.70" y1="679.69" x2="389.00" y2="679.69" stroke="#000" stroke-width="1.3"/>
<text x="381.00" y="683.44" font-size="10.5" font-weight="bold" text-anchor="end">40</text>
<line x1="384.70" y1="646.37" x2="389.00" y2="646.37" stroke="#000" stroke-width="1.3"/>
<text x="381.00" y="650.12" font-size="10.5" font-weight="bold" text-anchor="end">60</text>
<line x1="384.70" y1="613.05" x2="389.00" y2="613.05" stroke="#000" stroke-width="1.3"/>
<text x="381.00" y="616.80" font-size="10.5" font-weight="bold" text-anchor="end">80</text>
<line x1="384.70" y1="579.72" x2="389.00" y2="579.72" stroke="#000" stroke-width="1.3"/>
<text x="381.00" y="583.47" font-size="10.5" font-weight="bold" text-anchor="end">100</text>
<line x1="384.70" y1="546.40" x2="389.00" y2="546.40" stroke="#000" stroke-width="1.3"/>
<text x="381.00" y="550.15" font-size="10.5" font-weight="bold" text-anchor="end">120</text>
<line x1="396.20" y1="558.80" x2="420.00" y2="558.80" stroke="#000000" stroke-width="1.7"/>
<rect x="405.40" y="556.30" width="5.00" height="5.00" fill="#000000"/>
<text x="423.20" y="562.90" font-size="10.5" font-weight="bold" text-anchor="start" textLength="26.80" lengthAdjust="spacingAndGlyphs">Blank</text>
<line x1="396.20" y1="574.40" x2="420.00" y2="574.40" stroke="#ff0000" stroke-width="1.7"/>
<circle cx="407.90" cy="574.40" r="2.90" fill="#ff0000"/>
<text x="423.20" y="578.50" font-size="10.5" font-weight="bold" text-anchor="start">0.45 mg/mL</text>
<line x1="396.20" y1="590.10" x2="420.00" y2="590.10" stroke="#0000ff" stroke-width="1.7"/>
<polygon points="407.90,586.70 411.30,592.82 404.50,592.82" fill="#0000ff"/>
<text x="423.20" y="594.20" font-size="10.5" font-weight="bold" text-anchor="start">0.50 mg/mL</text>
<line x1="396.20" y1="605.80" x2="420.00" y2="605.80" stroke="#ff00ff" stroke-width="1.7"/>
<polygon points="407.90,609.20 411.30,603.08 404.50,603.08" fill="#ff00ff"/>
<text x="423.20" y="609.90" font-size="10.5" font-weight="bold" text-anchor="start">0.55 mg/mL</text>
<line x1="396.20" y1="621.40" x2="420.00" y2="621.40" stroke="#008000" stroke-width="1.7"/>
<polygon points="407.90,617.90 411.40,621.40 407.90,624.90 404.40,621.40" fill="#008000"/>
<text x="423.20" y="625.50" font-size="10.5" font-weight="bold" text-anchor="start">0.60 mg/mL</text>
<line x1="491.70" y1="559.20" x2="516.20" y2="559.20" stroke="#000080" stroke-width="1.7"/>
<polygon points="500.70,559.20 506.82,555.80 506.82,562.60" fill="#000080"/>
<text x="518.70" y="563.30" font-size="10.5" font-weight="bold" text-anchor="start">0.65 mg/mL</text>
<line x1="491.70" y1="574.70" x2="516.20" y2="574.70" stroke="#8000ff" stroke-width="1.7"/>
<polygon points="507.50,574.70 501.38,571.30 501.38,578.10" fill="#8000ff"/>
<text x="518.70" y="578.80" font-size="10.5" font-weight="bold" text-anchor="start">0.70 mg/mL</text>
<line x1="588.70" y1="557.30" x2="613.00" y2="557.30" stroke="#800080" stroke-width="1.7"/>
<circle cx="600.70" cy="557.30" r="2.90" fill="#800080"/>
<text x="615.60" y="561.40" font-size="10.5" font-weight="bold" text-anchor="start">0.75 mg/mL</text>
<line x1="588.70" y1="572.70" x2="613.00" y2="572.70" stroke="#800000" stroke-width="1.7"/>
<polygon points="600.70,569.20 601.58,571.49 604.03,571.62 602.13,573.16 602.76,575.53 600.70,574.20 598.64,575.53 599.27,573.16 597.37,571.62 599.82,571.49" fill="#800000"/>
<text x="615.60" y="576.80" font-size="10.5" font-weight="bold" text-anchor="start">0.80 mg/mL</text>
<text x="399.50" y="749.60" font-size="19" font-weight="bold" text-anchor="start">f</text>
<text x="490.40" y="797.20" font-size="11" font-weight="bold" text-anchor="start" textLength="102.80" lengthAdjust="spacingAndGlyphs" xml:space="preserve">Exposure time (hpf)</text>
<text transform="translate(363.10,650.50) rotate(-90)" x="0" y="0" font-size="11" font-weight="bold" text-anchor="middle" textLength="82.40" lengthAdjust="spacingAndGlyphs" xml:space="preserve">Hatchability (%)</text>
</svg>
</body></html>
